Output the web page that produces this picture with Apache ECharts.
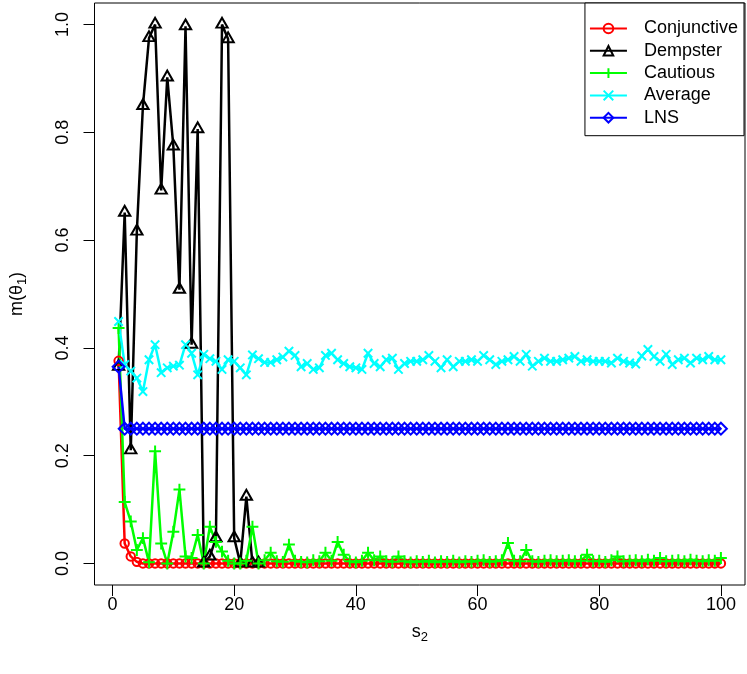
<!DOCTYPE html>
<html><head><meta charset="utf-8">
<script src="https://cdn.jsdelivr.net/npm/echarts@6/dist/echarts.min.js"></script>
<style>html,body{margin:0;padding:0;background:#fff}#c{width:747px;height:674px}</style>
</head><body><div id="c"></div>
<script>
const s2 = [1,2,3,4,5,6,7,8,9,10,11,12,13,14,15,16,17,18,19,20,21,22,23,24,25,26,27,28,29,30,31,32,33,34,35,36,37,38,39,40,41,42,43,44,45,46,47,48,49,50,51,52,53,54,55,56,57,58,59,60,61,62,63,64,65,66,67,68,69,70,71,72,73,74,75,76,77,78,79,80,81,82,83,84,85,86,87,88,89,90,91,92,93,94,95,96,97,98,99,100];

const conjunctive = [0.376,0.037,0.013,0.003,0,0,0,0,0,0, 0,0,0,0,0,0,0,0,0,0, 0,0,0,0,0,0,0,0,0,0, 0,0,0,0,0,0,0,0,0,0, 0,0,0,0,0,0,0,0,0,0, 0,0,0,0,0,0,0,0,0,0, 0,0,0,0,0,0,0,0,0,0, 0,0,0,0,0,0,0,0,0,0, 0,0,0,0,0,0,0,0,0,0, 0,0,0,0,0,0,0,0,0,0];

const dempster = [0.365,0.651,0.21,0.616,0.849,0.975,1.0,0.692,0.902,0.774, 0.508,0.997,0.406,0.806,0.0,0.013,0.047,1.0,0.973,0.047, 0.0,0.124,0.0,0.0];

const cautious = [0.437,0.114,0.078,0.025,0.047,0.002,0.208,0.037,0.0,0.059, 0.137,0.013,0.01,0.053,0.0,0.068,0.04,0.022,0.005,0.0, 0.0,0.005,0.068,0.0,0.006,0.02,0.004,0.003,0.035,0.005, 0.003,0.002,0.006,0.004,0.02,0.005,0.04,0.016,0.004,0.002, 0.005,0.02,0.006,0.013,0.004,0.003,0.013,0.004,0.002,0.004, 0.003,0.005,0.002,0.004,0.003,0.005,0.002,0.004,0.003,0.005, 0.006,0.003,0.004,0.006,0.038,0.005,0.004,0.025,0.004,0.003, 0.005,0.006,0.004,0.005,0.006,0.004,0.005,0.016,0.004,0.005, 0.003,0.006,0.013,0.004,0.005,0.006,0.004,0.007,0.005,0.01, 0.004,0.005,0.006,0.004,0.007,0.005,0.004,0.006,0.005,0.01];

const average = [0.449,0.369,0.357,0.344,0.319,0.378,0.406,0.354,0.363,0.366, 0.368,0.406,0.39,0.35,0.388,0.38,0.375,0.36,0.378,0.375, 0.363,0.35,0.387,0.38,0.373,0.373,0.378,0.383,0.394,0.386, 0.365,0.371,0.36,0.363,0.386,0.39,0.378,0.371,0.365,0.363, 0.36,0.39,0.371,0.365,0.378,0.381,0.36,0.371,0.375,0.375, 0.378,0.386,0.375,0.363,0.378,0.365,0.375,0.375,0.378,0.375, 0.386,0.378,0.369,0.375,0.378,0.384,0.375,0.388,0.366,0.375, 0.381,0.375,0.375,0.378,0.381,0.384,0.375,0.378,0.375,0.375, 0.375,0.372,0.381,0.375,0.372,0.37,0.385,0.397,0.384,0.375, 0.388,0.369,0.378,0.381,0.372,0.381,0.378,0.384,0.378,0.378];

const lns = [0.365,0.25,0.25,0.25,0.25,0.25,0.25,0.25,0.25,0.25, 0.25,0.25,0.25,0.25,0.25,0.25,0.25,0.25,0.25,0.25, 0.25,0.25,0.25,0.25,0.25,0.25,0.25,0.25,0.25,0.25, 0.25,0.25,0.25,0.25,0.25,0.25,0.25,0.25,0.25,0.25, 0.25,0.25,0.25,0.25,0.25,0.25,0.25,0.25,0.25,0.25, 0.25,0.25,0.25,0.25,0.25,0.25,0.25,0.25,0.25,0.25, 0.25,0.25,0.25,0.25,0.25,0.25,0.25,0.25,0.25,0.25, 0.25,0.25,0.25,0.25,0.25,0.25,0.25,0.25,0.25,0.25, 0.25,0.25,0.25,0.25,0.25,0.25,0.25,0.25,0.25,0.25, 0.25,0.25,0.25,0.25,0.25,0.25,0.25,0.25,0.25,0.25];

const xTicks = [0,20,40,60,80,100];
const yTicks = [0,0.2,0.4,0.6,0.8,1.0];
const seriesNames = ['Conjunctive','Dempster','Cautious','Average','LNS'];

const FONT = '"Liberation Sans", Arial, Helvetica, sans-serif';
const PLUS = 'path://M0,5L10,5M5,0L5,10';
const CROSS = 'path://M0,0L10,10M10,0L0,10';

function pairs(vals){ return vals.map((v,i)=>[s2[i], v]); }
function mk(name, vals, color, symbol, size, offset){
  return {
    name, type:'line', data:pairs(vals), symbol, symbolSize:size, symbolOffset: offset || [0,0],
    showSymbol:true, showAllSymbol:true, animation:false, silent:true,
    lineStyle:{color, width:2.5},
    itemStyle:{color:'rgba(0,0,0,0)', borderColor:color, borderWidth:2},
    emphasis:{disabled:true}
  };
}

const chart = echarts.init(document.getElementById('c'), null, {renderer:'canvas'});
chart.setOption({
  backgroundColor:'#fff',
  animation:false,
  textStyle:{fontFamily:FONT},
  grid:{left:93, right:2, top:3, bottom:89, show:true, borderColor:'#000', borderWidth:1, backgroundColor:'rgba(0,0,0,0)'},
  xAxis:{
    type:'value', min:-2.96, max:103.96,
    axisLine:{show:false, onZero:false},
    axisTick:{show:true, inside:false, length:11, customValues:xTicks, lineStyle:{color:'#000', width:1}},
    axisLabel:{customValues:xTicks, fontSize:18, color:'#000', margin:11, fontFamily:FONT},
    splitLine:{show:false},
    name:'{a|s}{b|2}', nameLocation:'middle', nameGap:36,
    nameTextStyle:{rich:{a:{fontSize:18, color:'#000', fontFamily:FONT}, b:{fontSize:13, color:'#000', fontFamily:FONT, padding:[10,0,0,0]}}}
  },
  yAxis:{
    type:'value', min:-0.04, max:1.04,
    axisLine:{show:false, onZero:false},
    axisTick:{show:true, inside:false, length:11, customValues:yTicks, lineStyle:{color:'#000', width:1}},
    axisLabel:{customValues:yTicks, rotate:90, fontSize:18, color:'#000', margin:22, fontFamily:FONT,
      formatter:(v)=>v.toFixed(1)},
    splitLine:{show:false},
    name:'{a|m(θ}{b|1}{a|)}', nameLocation:'middle', nameGap:66, nameRotate:90,
    nameTextStyle:{rich:{a:{fontSize:18, color:'#000', fontFamily:FONT}, b:{fontSize:13, color:'#000', fontFamily:FONT, padding:[10,0,0,0]}}}
  },
  legend:{
    orient:'vertical', right:3, top:3,
    data:seriesNames,
    itemWidth:37, itemHeight:12, itemGap:4.3,
    padding:[16.5,6,9,4],
    borderColor:'#000', borderWidth:1, borderRadius:0,
    backgroundColor:'#fff',
    selectedMode:false,
    textStyle:{fontSize:18, color:'#000', fontFamily:FONT, padding:[0,0,0,12]}
  },
  series:[
    mk(seriesNames[0], conjunctive, '#FF0000', 'circle', 8.4),
    mk(seriesNames[1], dempster, '#000000', 'triangle', [11.3,9.8], [0,-1.8]),
    mk(seriesNames[2], cautious, '#00FF00', PLUS, 11.9),
    mk(seriesNames[3], average, '#00FFFF', CROSS, 8.4),
    mk(seriesNames[4], lns, '#0000FF', 'diamond', 11.9)
  ]
});
</script>
</body></html>
